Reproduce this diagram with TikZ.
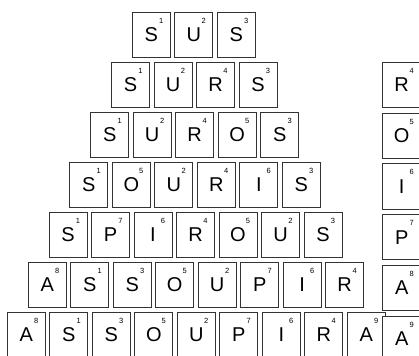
\documentclass[tikz,border=0pt]{standalone}
\usepackage{fontspec}
\setmainfont{Liberation Sans}
\usetikzlibrary{positioning}

\begin{document}
\begin{tikzpicture}[
    x=1pt, y=1pt,
    tile/.style={rectangle, draw=black!80, line width=0.8pt, fill=white,
        minimum width=38pt, minimum height=45pt, inner sep=0pt,
        font=\fontsize{20}{20}\selectfont, label={[num]center:#1}},
    num/.style={font=\fontsize{7.5}{7.5}\selectfont, xshift=10pt, yshift=14pt},
    node distance=3.7pt
]
    \useasboundingbox (0,0) rectangle (419,-355);
    \clip (0,0) rectangle (419,-355);

    % SUS
    \node[tile=1] (sus1) at (151.3,-34.8) {S};
    \node[tile=2, right=of sus1] (sus2) {U};
    \node[tile=3, right=of sus2] (sus3) {S};

    % SURS
    \node[tile=1] (surs1) at (130.5,-84.8) {S};
    \node[tile=2, right=of surs1] (surs2) {U};
    \node[tile=4, right=of surs2] (surs3) {R};
    \node[tile=3, right=of surs3] (surs4) {S};

    % SUROS
    \node[tile=1] (suros1) at (109.7,-134.8) {S};
    \node[tile=2, right=of suros1] (suros2) {U};
    \node[tile=4, right=of suros2] (suros3) {R};
    \node[tile=5, right=of suros3] (suros4) {O};
    \node[tile=3, right=of suros4] (suros5) {S};

    % SOURIS
    \node[tile=1] (souris1) at (88.8,-184.8) {S};
    \node[tile=5, right=of souris1] (souris2) {O};
    \node[tile=2, right=of souris2] (souris3) {U};
    \node[tile=4, right=of souris3] (souris4) {R};
    \node[tile=6, right=of souris4] (souris5) {I\hspace{9pt}};
    \node[tile=3, right=of souris5] (souris6) {S};

    % SPIROUS
    \node[tile=1] (spirous1) at (68,-234.8) {S};
    \node[tile=7, right=of spirous1] (spirous2) {P};
    \node[tile=6, right=of spirous2] (spirous3) {I\hspace{9pt}};
    \node[tile=4, right=of spirous3] (spirous4) {R};
    \node[tile=5, right=of spirous4] (spirous5) {O};
    \node[tile=2, right=of spirous5] (spirous6) {U};
    \node[tile=3, right=of spirous6] (spirous7) {S};

    % ASSOUPIR
    \node[tile=8] (assoupir1) at (47.2,-284.8) {A};
    \node[tile=1, right=of assoupir1] (assoupir2) {S};
    \node[tile=3, right=of assoupir2] (assoupir3) {S};
    \node[tile=5, right=of assoupir3] (assoupir4) {O};
    \node[tile=2, right=of assoupir4] (assoupir5) {U};
    \node[tile=7, right=of assoupir5] (assoupir6) {P};
    \node[tile=6, right=of assoupir6] (assoupir7) {I\hspace{9pt}};
    \node[tile=4, right=of assoupir7] (assoupir8) {R};

    % ASSOUPIRA
    \node[tile=8] (assoupira1) at (26.3,-334.8) {A};
    \node[tile=1, right=of assoupira1] (assoupira2) {S};
    \node[tile=3, right=of assoupira2] (assoupira3) {S};
    \node[tile=5, right=of assoupira3] (assoupira4) {O};
    \node[tile=2, right=of assoupira4] (assoupira5) {U};
    \node[tile=7, right=of assoupira5] (assoupira6) {P};
    \node[tile=6, right=of assoupira6] (assoupira7) {I\hspace{9pt}};
    \node[tile=4, right=of assoupira7] (assoupira8) {R};
    \node[tile=9, right=of assoupira8] (assoupira9) {A};

    % added letters
    \node[tile=4] (add1) at (401.7,-84.8) {R};
    \node[tile=5, below=5pt of add1] (add2) {O};
    \node[tile=6, below=5pt of add2] (add3) {I\hspace{9pt}};
    \node[tile=7, below=5pt of add3] (add4) {P};
    \node[tile=8, below=5pt of add4] (add5) {A};
    \node[tile=9, below=5pt of add5] (add6) {A};
\end{tikzpicture}
\end{document}
